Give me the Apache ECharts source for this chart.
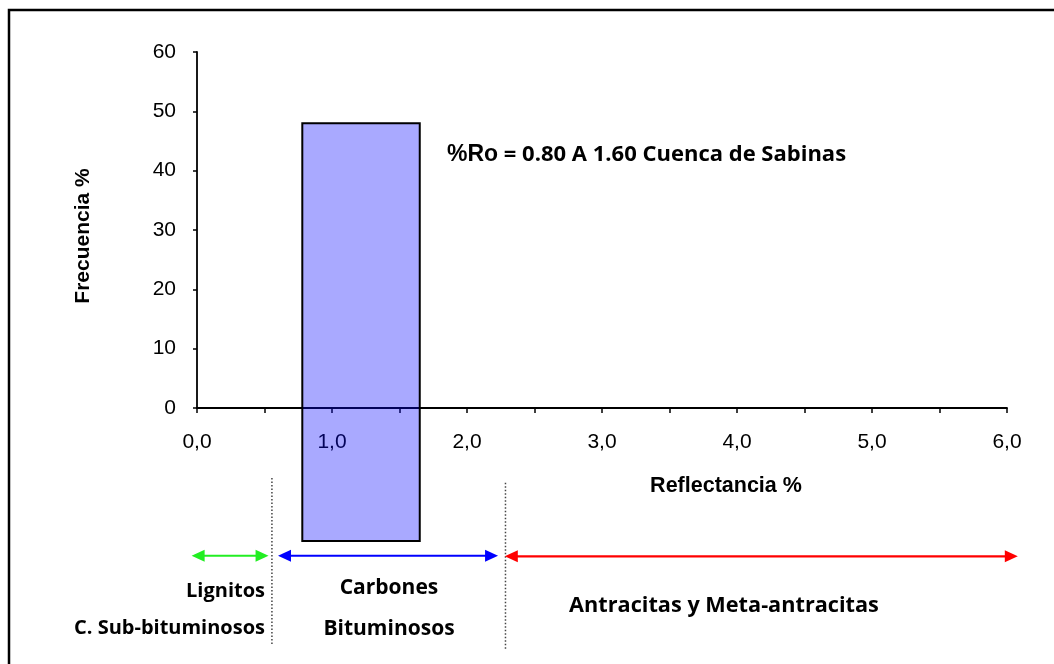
<!DOCTYPE html>
<html>
<head>
<meta charset="utf-8">
<script src="https://cdn.jsdelivr.net/npm/echarts@6/dist/echarts.min.js"></script>
<style>
html,body{margin:0;padding:0;background:#fff;}
#c{width:1054px;height:664px;}
</style>
</head>
<body>
<div id="c"></div>
<script>
// ---- data ----
const xMin = 0, xMax = 6, xStep = 1;
const yMin = 0, yMax = 60, yStep = 10;
// histogram block (%Ro range of Cuenca de Sabinas)
const histStart = [0.78];
const histEnd = [1.65];
const histTop = [48];
const histBottom = [-22.4];
// coal rank ranges (reflectance %)
const rankStart = [-0.04, 0.60, 2.28];
const rankEnd = [0.53, 2.23, 6.08];
const rankLevel = [-24.9, -24.9, -25.0];
// rank boundaries (reflectance %), dotted separators
const boundaryX = [0.555, 2.285];
const boundaryTop = [-11.8, -12.6];
const boundaryBottom = [-39.9, -40.8];
const rankColors = ['#22ee22', '#0000ff', '#ff0000'];

const ARIAL = '"Liberation Sans", Arial, sans-serif';
const CAL = '"Open Sans", Lato, sans-serif';

const chart = echarts.init(document.getElementById('c'), null, {renderer: 'canvas'});

function fmtX(v) { return v.toFixed(1).replace('.', ','); }

const option = {
  animation: false,
  backgroundColor: '#ffffff',
  grid: {left: 197, right: 47, top: 52, bottom: 256, containLabel: false},
  xAxis: {
    type: 'value', min: xMin, max: xMax, interval: xStep,
    axisLine: {show: true, onZero: false, lineStyle: {color: '#000', width: 1.8}},
    axisTick: {show: true, length: 5, lineStyle: {color: '#000', width: 1.5}},
    minorTick: {show: true, splitNumber: 2, length: 5, lineStyle: {color: '#000', width: 1.5}},
    splitLine: {show: false},
    axisLabel: {color: '#000', fontFamily: ARIAL, fontSize: 21, margin: 24, formatter: fmtX}
  },
  yAxis: {
    type: 'value', min: yMin, max: yMax, interval: yStep,
    axisLine: {show: true, lineStyle: {color: '#000', width: 1.8}},
    axisTick: {show: true, length: 4, lineStyle: {color: '#000', width: 1.5}},
    splitLine: {show: false},
    axisLabel: {color: '#000', fontFamily: ARIAL, fontSize: 21, margin: 21}
  },
  series: [
    {
      type: 'custom', clip: false, z: 5,
      data: histStart.map((s, i) => [s, histEnd[i], histBottom[i], histTop[i]]),
      renderItem: function (params, api) {
        const p0 = api.coord([api.value(0), api.value(3)]);
        const p1 = api.coord([api.value(1), api.value(2)]);
        return {
          type: 'rect',
          shape: {x: p0[0], y: p0[1], width: p1[0] - p0[0], height: p1[1] - p0[1]},
          style: {fill: 'rgba(10,10,255,0.35)', stroke: '#000', lineWidth: 2}
        };
      }
    },
    {
      type: 'custom', clip: false, z: 4,
      data: boundaryX.map((x, i) => [x, boundaryTop[i], boundaryBottom[i]]),
      renderItem: function (params, api) {
        const p0 = api.coord([api.value(0), api.value(1)]);
        const p1 = api.coord([api.value(0), api.value(2)]);
        return {
          type: 'line',
          shape: {x1: p0[0], y1: p0[1], x2: p1[0], y2: p1[1]},
          style: {stroke: '#444', lineWidth: 1.5, lineDash: [1.5, 2]}
        };
      }
    },
    {
      type: 'custom', clip: false, z: 4,
      data: rankStart.map((s, i) => [s, rankEnd[i], rankLevel[i], i]),
      renderItem: function (params, api) {
        const a = api.coord([api.value(0), api.value(2)]);
        const b = api.coord([api.value(1), api.value(2)]);
        const col = rankColors[api.value(3)];
        const L = 13, H = 6;
        return {
          type: 'group',
          children: [
            {type: 'line', shape: {x1: a[0] + L - 1, y1: a[1], x2: b[0] - L + 1, y2: b[1]},
             style: {stroke: col, lineWidth: 2.2}},
            {type: 'polygon', shape: {points: [[a[0], a[1]], [a[0] + L, a[1] - H], [a[0] + L, a[1] + H]]},
             style: {fill: col}},
            {type: 'polygon', shape: {points: [[b[0], b[1]], [b[0] - L, b[1] - H], [b[0] - L, b[1] + H]]},
             style: {fill: col}}
          ]
        };
      }
    }
  ],
  graphic: [
    {type: 'rect', shape: {x: 9, y: 10, width: 1100, height: 700},
     style: {fill: 'none', stroke: '#000', lineWidth: 2.5}, z: 10, silent: true},
    {type: 'text', x: 83, y: 236, rotation: Math.PI / 2,
     style: {text: 'Frecuencia %', font: 'bold 21px ' + ARIAL, fill: '#000', align: 'center', verticalAlign: 'middle'}},
    {type: 'text', x: 726, y: 486,
     style: {text: 'Reflectancia %', font: 'bold 21.5px ' + ARIAL, fill: '#000', align: 'center', verticalAlign: 'middle'}},
    {type: 'text', x: 447, y: 155,
     style: {
       text: '{a|%Ro}{b| = 0.80 A 1.60 Cuenca de Sabinas}',
       align: 'left', verticalAlign: 'middle',
       rich: {
         a: {fontFamily: ARIAL, fontWeight: 'bold', fontSize: 23, fill: '#000'},
         b: {fontFamily: CAL, fontWeight: 'bold', fontSize: 22, fill: '#000'}
       }
     }},
    {type: 'text', x: 265, y: 591,
     style: {text: 'Lignitos', font: 'bold 20px ' + CAL, fill: '#000', align: 'right', verticalAlign: 'middle'}},
    {type: 'text', x: 265, y: 628,
     style: {text: 'C. Sub-bituminosos', font: 'bold 20px ' + CAL, fill: '#000', align: 'right', verticalAlign: 'middle'}},
    {type: 'text', x: 389, y: 588,
     style: {text: 'Carbones', font: 'bold 21px ' + CAL, fill: '#000', align: 'center', verticalAlign: 'middle'}},
    {type: 'text', x: 389, y: 629,
     style: {text: 'Bituminosos', font: 'bold 21px ' + CAL, fill: '#000', align: 'center', verticalAlign: 'middle'}},
    {type: 'text', x: 724, y: 606,
     style: {text: 'Antracitas y Meta-antracitas', font: 'bold 21.7px ' + CAL, fill: '#000', align: 'center', verticalAlign: 'middle'}}
  ]
};
chart.setOption(option);
</script>
</body>
</html>
